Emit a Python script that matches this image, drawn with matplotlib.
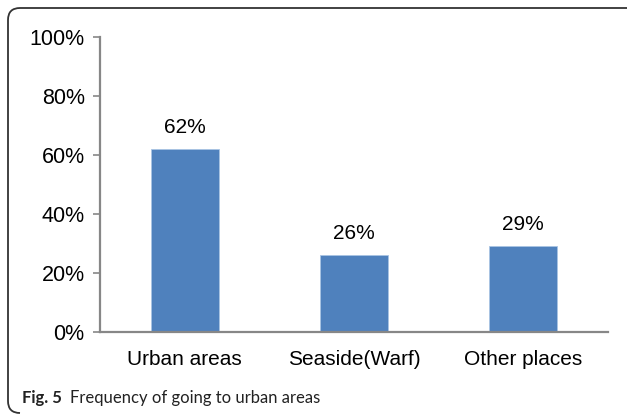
import matplotlib.pyplot as plt
from matplotlib.path import Path
from matplotlib.patches import PathPatch

categories = ["Urban areas", "Seaside(Warf)", "Other places"]
values = [62, 26, 29]
yticks = [0, 20, 40, 60, 80, 100]

W, H = 627, 417
fig = plt.figure(figsize=(W / 100, H / 100), dpi=100)
ax = fig.add_axes([100 / W, 85 / H, 508 / W, 295 / H])

bars = ax.bar(range(len(categories)), values, width=0.4, color="#4F81BD",
              edgecolor="#A9C4E4", linewidth=0.6)
for b, v in zip(bars, values):
    ax.annotate(f"{v}%", (b.get_x() + b.get_width() / 2, v), xytext=(0, 9),
                textcoords="offset points", ha="center", va="bottom",
                fontsize=15, family="Liberation Sans")

ax.set_xlim(-0.5, len(categories) - 0.5)
ax.set_ylim(0, 100)
ax.set_yticks(yticks)
ax.set_yticklabels([f"{t}%" for t in yticks], family="Liberation Sans", fontsize=15.5)
ax.set_xticks(range(len(categories)))
ax.set_xticklabels(categories, family="Liberation Sans", fontsize=15)
ax.tick_params(axis="x", length=0, pad=13)
ax.tick_params(axis="y", length=5, width=1.2, color="#878787", pad=6)
for s in ["top", "right"]:
    ax.spines[s].set_visible(False)
for s in ["left", "bottom"]:
    ax.spines[s].set_color("#878787")
    ax.spines[s].set_linewidth(1.6)

# frame: top and left edges with rounded corners (pixel coords, y down)
r = 12
px = [(W, 8), (8 + r, 8), (8, 8), (8, 8 + r), (8, H - 4 - r), (8, H - 4), (8 + r, H - 4)]
codes = [Path.MOVETO, Path.LINETO, Path.CURVE3, Path.CURVE3, Path.LINETO, Path.CURVE3, Path.CURVE3]
verts = [(x / W, 1 - y / H) for x, y in px]
fig.patches.append(PathPatch(Path(verts, codes), transform=fig.transFigure, fill=False,
                             edgecolor="#333333", linewidth=1.3))

fig.text(22 / W, 1 - 398 / H, "Fig. 5", fontsize=12, fontweight="bold",
         family="Lato", color="#222222", va="center")
fig.text(70 / W, 1 - 398 / H, "Frequency of going to urban areas", fontsize=12,
         family="Lato", color="#222222", va="center")

fig.savefig("out.png", dpi=100)
